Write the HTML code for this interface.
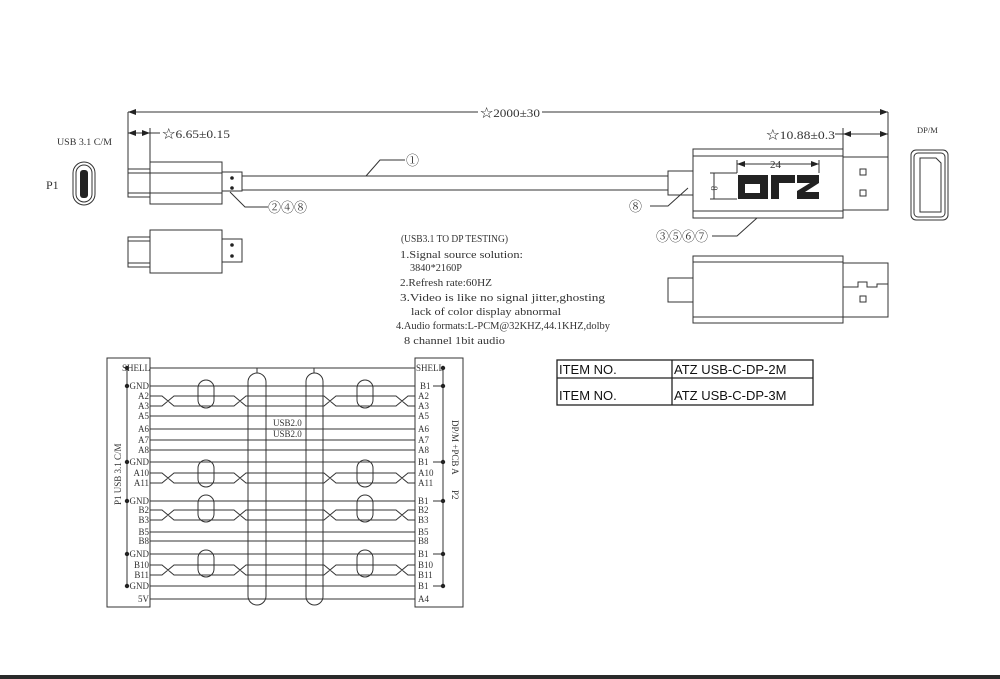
<!DOCTYPE html>
<html><head><meta charset="utf-8"><style>
html,body{margin:0;padding:0;background:#fff;}
svg{display:block;}
text{font-family:"Liberation Serif","Noto Serif CJK SC",serif;fill:#333;}
.s{font-family:"Liberation Sans",sans-serif;fill:#111;}
</style></head><body>
<svg width="1000" height="679" viewBox="0 0 1000 679" xmlns="http://www.w3.org/2000/svg">
<defs>
<marker id="a" markerWidth="8" markerHeight="6" refX="8" refY="3" orient="auto" markerUnits="userSpaceOnUse"><path d="M0,0 L8,3 L0,6z" fill="#222"/></marker>
<marker id="b" markerWidth="8" markerHeight="6" refX="0" refY="3" orient="auto" markerUnits="userSpaceOnUse"><path d="M8,0 L0,3 L8,6z" fill="#222"/></marker>
</defs>
<rect width="1000" height="679" fill="#fff"/>
<g stroke="#333" stroke-width="1" fill="none">
<line x1="128" y1="112" x2="888" y2="112" marker-start="url(#b)" marker-end="url(#a)"/>
<line x1="128" y1="112" x2="128" y2="197"/>
<line x1="888" y1="112" x2="888" y2="210"/>
<line x1="128" y1="133" x2="150" y2="133" marker-start="url(#b)" marker-end="url(#a)"/>
<line x1="150" y1="128" x2="150" y2="162"/>
<line x1="150" y1="133" x2="160" y2="133"/>
<rect x="128" y="169" width="22" height="28"/>
<line x1="128" y1="173" x2="150" y2="173"/><line x1="128" y1="193" x2="150" y2="193"/>
<rect x="150" y="162" width="72" height="42"/>
<line x1="150" y1="173" x2="222" y2="173"/><line x1="150" y1="193" x2="222" y2="193"/>
<rect x="222" y="172" width="20" height="19"/>
<line x1="242" y1="176" x2="668" y2="176"/><line x1="242" y1="190" x2="668" y2="190"/>
<polyline points="405,160 380,160 366,176" />
<polyline points="268,207 245,207 230,192"/>
<rect x="128" y="237" width="22" height="30"/>
<line x1="128" y1="241" x2="150" y2="241"/><line x1="128" y1="263" x2="150" y2="263"/>
<rect x="150" y="230" width="72" height="43"/>
<rect x="222" y="239" width="20" height="23"/>
<rect x="73" y="162" width="22" height="43" rx="11"/>
<rect x="76" y="165" width="16" height="37" rx="8"/>
<rect x="693" y="149" width="150" height="69"/>
<line x1="693" y1="156" x2="843" y2="156"/><line x1="693" y1="211" x2="843" y2="211"/>
<rect x="843" y="157" width="45" height="53"/>
<rect x="668" y="171" width="25" height="24"/>
<rect x="860" y="169" width="6" height="6"/><rect x="860" y="190" width="6" height="6"/>
<line x1="843" y1="134" x2="888" y2="134" marker-start="url(#b)" marker-end="url(#a)"/>
<line x1="843" y1="128" x2="843" y2="149"/>
<line x1="835" y1="134" x2="843" y2="134"/>
<line x1="737" y1="164" x2="819" y2="164" marker-start="url(#b)" marker-end="url(#a)"/>
<line x1="737" y1="160" x2="737" y2="173"/><line x1="819" y1="160" x2="819" y2="173"/>
<line x1="714" y1="173" x2="714" y2="199"/>
<line x1="710" y1="173" x2="737" y2="173"/><line x1="710" y1="199" x2="737" y2="199"/>
<polyline points="650,206 668,206 688,188"/>
<polyline points="712,236 737,236 757,218"/>
<rect x="911" y="150" width="37" height="70" rx="5"/>
<rect x="914" y="153" width="31" height="64" rx="4"/>
<path d="M920,158 H936 L941,163 V212 H920 Z"/>
<rect x="693" y="256" width="150" height="67"/>
<line x1="693" y1="262" x2="843" y2="262"/><line x1="693" y1="317" x2="843" y2="317"/>
<rect x="668" y="278" width="25" height="24"/>
<polyline points="843,263 888,263 888,317 843,317"/>
<polyline points="843,287 858,287 858,282 867,282 867,287 877,287 877,284 888,284"/>
<rect x="860" y="296" width="6" height="6"/>
<rect x="557" y="360" width="256" height="45" stroke="#222" stroke-width="1.3"/>
<line x1="557" y1="378" x2="813" y2="378" stroke="#222" stroke-width="1.3"/>
<line x1="672" y1="360" x2="672" y2="405" stroke="#222" stroke-width="1.3"/>
<rect x="107" y="358" width="43" height="249"/>
<rect x="415" y="358" width="48" height="249"/>
<line x1="127" y1="368" x2="127" y2="586"/>
<line x1="443" y1="368" x2="443" y2="586"/>
<line x1="150" y1="368" x2="415" y2="368"/>
<line x1="150" y1="386" x2="415" y2="386"/>
<line x1="150" y1="416" x2="415" y2="416"/>
<line x1="150" y1="429" x2="415" y2="429"/>
<line x1="150" y1="440" x2="415" y2="440"/>
<line x1="150" y1="450" x2="415" y2="450"/>
<line x1="150" y1="462" x2="415" y2="462"/>
<line x1="150" y1="501" x2="415" y2="501"/>
<line x1="150" y1="532" x2="415" y2="532"/>
<line x1="150" y1="541" x2="415" y2="541"/>
<line x1="150" y1="554" x2="415" y2="554"/>
<line x1="150" y1="586" x2="415" y2="586"/>
<line x1="150" y1="599" x2="415" y2="599"/>
<path d="M150,396 H162 L174,406 H234 L246,396 H324 L336,406 H396 L408,396 H415 M150,406 H162 L174,396 H234 L246,406 H324 L336,396 H396 L408,406 H415"/>
<path d="M150,473 H162 L174,483 H234 L246,473 H324 L336,483 H396 L408,473 H415 M150,483 H162 L174,473 H234 L246,483 H324 L336,473 H396 L408,483 H415"/>
<path d="M150,510 H162 L174,520 H234 L246,510 H324 L336,520 H396 L408,510 H415 M150,520 H162 L174,510 H234 L246,520 H324 L336,510 H396 L408,520 H415"/>
<path d="M150,565 H162 L174,575 H234 L246,565 H324 L336,575 H396 L408,565 H415 M150,575 H162 L174,565 H234 L246,575 H324 L336,565 H396 L408,575 H415"/>
<rect x="198" y="380" width="16" height="28" rx="8"/><rect x="357" y="380" width="16" height="28" rx="8"/>
<rect x="198" y="460" width="16" height="27" rx="8"/><rect x="357" y="460" width="16" height="27" rx="8"/>
<rect x="198" y="495" width="16" height="27" rx="8"/><rect x="357" y="495" width="16" height="27" rx="8"/>
<rect x="198" y="550" width="16" height="27" rx="8"/><rect x="357" y="550" width="16" height="27" rx="8"/>
<rect x="248" y="373" width="18" height="232" rx="9"/>
<rect x="306" y="373" width="17" height="232" rx="8.5"/>
<line x1="257" y1="368" x2="257" y2="373"/><line x1="314" y1="368" x2="314" y2="373"/>
<line x1="433" y1="386" x2="443" y2="386"/><line x1="433" y1="462" x2="443" y2="462"/>
<line x1="433" y1="501" x2="443" y2="501"/><line x1="433" y1="554" x2="443" y2="554"/>
<line x1="433" y1="586" x2="443" y2="586"/>
</g>
<g fill="#222">
<rect x="80" y="170" width="8" height="28" rx="3"/>
<circle cx="232" cy="178" r="1.8"/><circle cx="232" cy="188" r="1.8"/>
<circle cx="232" cy="245" r="1.8"/><circle cx="232" cy="256" r="1.8"/>
<path d="M738,175 H768 V199 H738 Z M745,184 V193 H760 V184 Z" fill-rule="evenodd"/>
<path d="M771,175 H795 V183 H779 V199 H771 Z"/>
<path d="M797,175 H819 V183 L805,192 H819 V199 H797 V191 L810,183 H797 Z"/>
<circle cx="127" cy="368" r="2.2"/><circle cx="127" cy="386" r="2.2"/><circle cx="127" cy="462" r="2.2"/>
<circle cx="127" cy="501" r="2.2"/><circle cx="127" cy="554" r="2.2"/><circle cx="127" cy="586" r="2.2"/>
<circle cx="443" cy="368" r="2.2"/><circle cx="443" cy="386" r="2.2"/><circle cx="443" cy="462" r="2.2"/>
<circle cx="443" cy="501" r="2.2"/><circle cx="443" cy="554" r="2.2"/><circle cx="443" cy="586" r="2.2"/>
<rect x="0" y="675" width="1000" height="4" fill="#2a2a2a"/>
</g>
<g font-size="12">
<rect x="478" y="105" width="64" height="14" fill="#fff"/>
<text x="480" y="117" textLength="60" lengthAdjust="spacingAndGlyphs">☆2000±30</text>
<text x="162" y="138" textLength="68" lengthAdjust="spacingAndGlyphs">☆6.65±0.15</text>
<text x="766" y="139" textLength="69" lengthAdjust="spacingAndGlyphs">☆10.88±0.3</text>
<text x="57" y="145" font-size="9.5" textLength="55" lengthAdjust="spacingAndGlyphs">USB 3.1 C/M</text>
<text x="46" y="189" font-size="12">P1</text>
<text x="917" y="133" font-size="8.5">DP/M</text>
<text x="406" y="165" font-size="13">①</text>
<text x="268" y="212" font-size="13">②④⑧</text>
<text x="629" y="211" font-size="13">⑧</text>
<text x="656" y="241" font-size="13">③⑤⑥⑦</text>
<text x="770" y="168" font-size="11">24</text>
<text x="0" y="0" font-size="9" transform="translate(711,186) rotate(90)">8</text>
</g>
<g font-size="10.5">
<text x="401" y="242" textLength="107" lengthAdjust="spacingAndGlyphs">(USB3.1 TO DP TESTING)</text>
<text x="400" y="258" textLength="123" lengthAdjust="spacingAndGlyphs">1.Signal source solution:</text>
<text x="410" y="271" textLength="52" lengthAdjust="spacingAndGlyphs">3840*2160P</text>
<text x="400" y="286" textLength="92" lengthAdjust="spacingAndGlyphs">2.Refresh rate:60HZ</text>
<text x="400" y="301" textLength="205" lengthAdjust="spacingAndGlyphs">3.Video is like no signal jitter,ghosting</text>
<text x="411" y="315" textLength="150" lengthAdjust="spacingAndGlyphs">lack of color display abnormal</text>
<text x="396" y="329" textLength="214" lengthAdjust="spacingAndGlyphs">4.Audio formats:L-PCM@32KHZ,44.1KHZ,dolby</text>
<text x="404" y="344" textLength="101" lengthAdjust="spacingAndGlyphs">8 channel 1bit audio</text>
</g>
<g font-size="13">
<text class="s" x="559" y="374">ITEM NO.</text>
<text class="s" x="674" y="374">ATZ USB-C-DP-2M</text>
<text class="s" x="559" y="400">ITEM NO.</text>
<text class="s" x="674" y="400">ATZ USB-C-DP-3M</text>
</g>
<g font-size="9">
<g text-anchor="end">
<text x="150" y="371">SHELL</text><text x="149" y="389">GND</text>
<text x="149" y="399">A2</text><text x="149" y="409">A3</text><text x="149" y="419">A5</text>
<text x="149" y="432">A6</text><text x="149" y="443">A7</text><text x="149" y="453">A8</text>
<text x="149" y="465">GND</text><text x="149" y="476">A10</text><text x="149" y="486">A11</text>
<text x="149" y="504">GND</text><text x="149" y="513">B2</text><text x="149" y="523">B3</text>
<text x="149" y="535">B5</text><text x="149" y="544">B8</text><text x="149" y="557">GND</text>
<text x="149" y="568">B10</text><text x="149" y="578">B11</text><text x="149" y="589">GND</text>
<text x="149" y="602">5V</text>
</g>
<text x="416" y="371">SHELL</text><text x="420" y="389">B1</text>
<text x="418" y="399">A2</text><text x="418" y="409">A3</text><text x="418" y="419">A5</text>
<text x="418" y="432">A6</text><text x="418" y="443">A7</text><text x="418" y="453">A8</text>
<text x="418" y="465">B1</text><text x="418" y="476">A10</text><text x="418" y="486">A11</text>
<text x="418" y="504">B1</text><text x="418" y="513">B2</text><text x="418" y="523">B3</text>
<text x="418" y="535">B5</text><text x="418" y="544">B8</text><text x="418" y="557">B1</text>
<text x="418" y="568">B10</text><text x="418" y="578">B11</text><text x="418" y="589">B1</text>
<text x="418" y="602">A4</text>
<text x="273" y="426">USB2.0</text><text x="273" y="437">USB2.0</text>
<text x="0" y="0" transform="translate(121,505) rotate(-90)">P1 USB 3.1 C/M</text>
<text x="0" y="0" transform="translate(452,420) rotate(90)">DP/M +PCB A</text>
<text x="0" y="0" transform="translate(452,490) rotate(90)">P2</text>
</g>
</svg>
</body></html>
